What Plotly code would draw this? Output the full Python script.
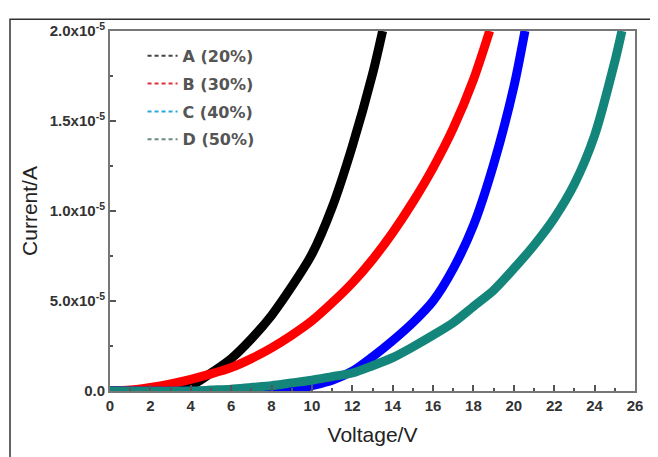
import plotly.graph_objects as go

A_v = [0, 2, 3, 4, 5, 6, 7, 8, 9, 10, 11, 12, 13, 13.5]
A_i = [0, 0.05, 0.1, 0.3, 1.0, 1.8, 2.9, 4.2, 5.8, 7.6, 10.2, 13.6, 17.6, 20]

B_v = [0, 1, 2, 3, 4, 5, 6, 7, 8, 9, 10, 11, 12, 13, 14, 15, 16, 17, 18, 18.8]
B_i = [0, 0.05, 0.2, 0.4, 0.65, 0.95, 1.3, 1.8, 2.4, 3.1, 3.9, 4.9, 6.0, 7.3, 8.8, 10.5, 12.4, 14.6, 17.3, 20]

C_v = [0, 8, 9, 10, 11, 12, 13, 14, 15, 16, 17, 18, 19, 20, 20.55]
C_i = [0, 0, 0.05, 0.3, 0.6, 1.1, 1.9, 2.8, 3.8, 5.0, 6.8, 9.2, 12.6, 16.9, 20]

D_v = [0, 4, 5, 6, 7, 8, 9, 10, 11, 12, 13, 14, 15, 16, 17, 18, 19, 20, 21, 22, 23, 24, 25, 25.35]
D_i = [0, 0, 0.05, 0.1, 0.2, 0.3, 0.45, 0.6, 0.8, 1.0, 1.4, 1.85, 2.45, 3.1, 3.8, 4.7, 5.6, 6.8, 8.1, 9.6, 11.5, 14.2, 18.3, 20]

names = ["A (20%)", "B (30%)", "C (40%)", "D (50%)"]
series = [(A_v, A_i), (B_v, B_i), (C_v, C_i), (D_v, D_i)]
curve_colors = ["#000000", "#ff0000", "#0000ff", "#13857a"]
legend_colors = ["#444444", "#e0303a", "#29a8e0", "#6b8a84"]

y_tickvals = [0, 5e-5, 1e-4, 1.5e-4, 2e-4]
y_ticktext = ["0.0", "5.0x10<sup>-5</sup>", "1.0x10<sup>-5</sup>", "1.5x10<sup>-5</sup>", "2.0x10<sup>-5</sup>"]
x_tickvals = list(range(0, 27, 2))

fig = go.Figure()
for (v, i), c in zip(series, curve_colors):
    fig.add_trace(go.Scatter(x=v, y=[k * 1e-5 for k in i], mode="lines",
                             line=dict(color=c, width=9, shape="spline", smoothing=0.8),
                             showlegend=False))
for n, c in zip(names, legend_colors):
    fig.add_trace(go.Scatter(x=[None], y=[None], mode="lines", name=n, legendgroup=n,
                             line=dict(color=c, width=2, dash="4px,3px")))

tick_font = dict(family="Arial, Liberation Sans", size=15, color="#333333", weight=700)
title_font = dict(family="Arial, Liberation Sans", size=21, color="#222222")
axis_common = dict(showline=True, linecolor="#777777", linewidth=2, mirror=True,
                   ticks="inside", ticklen=6, tickwidth=1.5, tickcolor="#555555",
                   showgrid=False, zeroline=False, tickfont=tick_font)

fig.update_xaxes(range=[0, 26], tickvals=x_tickvals,
                 minor=dict(ticks="inside", ticklen=3, dtick=1, tickcolor="#555555"),
                 title=dict(text="Voltage/V", font=title_font, standoff=14),
                 **axis_common)
fig.update_yaxes(range=[0, 2e-4], tickvals=y_tickvals, ticktext=y_ticktext,
                 minor=dict(ticks="inside", ticklen=3, tickvals=[2.5e-5, 7.5e-5, 1.25e-4, 1.75e-4], tickcolor="#555555"),
                 title=dict(text="Current/A", font=title_font, standoff=6),
                 **axis_common)

fig.update_layout(
    width=650, height=449,
    margin=dict(l=102, r=23, t=13, b=66),
    paper_bgcolor="white", plot_bgcolor="white",
    legend=dict(x=0.062, y=0.978, xanchor="left", yanchor="top",
                bgcolor="rgba(0,0,0,0)", tracegroupgap=4, traceorder="grouped",
                font=dict(family="DejaVu Sans", size=16, color="#555555", weight=700),
                itemwidth=30),
    shapes=[dict(type="rect", xref="paper", yref="paper",
                 x0=-100/525, x1=543/525, y0=-80/370, y1=382/370,
                 line=dict(color="#333333", width=1.5))],
)
fig.write_html("out.html")
